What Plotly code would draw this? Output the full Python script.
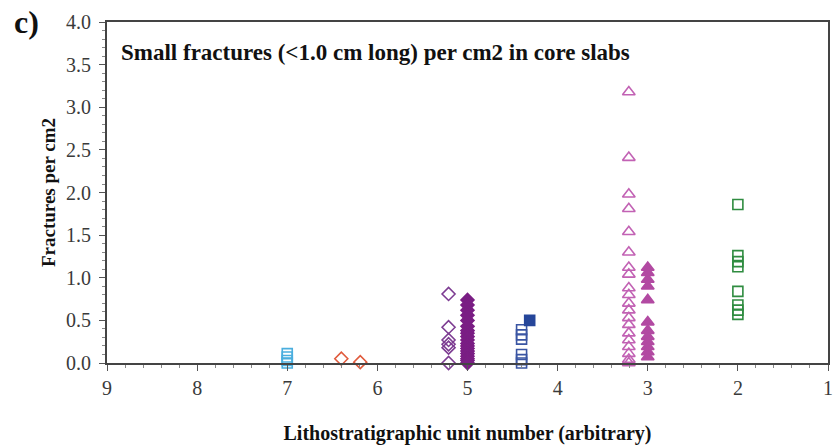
import plotly.graph_objects as go

# --- data (x = lithostratigraphic unit number, y = fractures per cm2) ---
lightblue_x = [7.0, 7.0, 7.0, 7.0]
lightblue_y = [0.0, 0.03, 0.07, 0.11]

red_x = [6.4, 6.19]
red_y = [0.05, 0.01]

purple_open_x = [5.21] * 6
purple_open_y = [0.81, 0.42, 0.27, 0.22, 0.18, 0.0]

purple_fill_x = [5.0] * 19
purple_fill_y = [0.74, 0.68, 0.62, 0.56, 0.5, 0.43, 0.38, 0.35, 0.31, 0.27,
                 0.23, 0.2, 0.17, 0.14, 0.11, 0.08, 0.05, 0.03, 0.0]

blue_open_x = [4.4] * 6
blue_open_y = [0.39, 0.33, 0.28, 0.1, 0.04, 0.0]

blue_fill_x = [4.31]
blue_fill_y = [0.5]

pink_open_x = [3.21] * 20
pink_open_y = [3.18, 2.41, 1.98, 1.81, 1.54, 1.3, 1.12, 1.04, 0.88, 0.8,
               0.7, 0.62, 0.53, 0.45, 0.35, 0.27, 0.19, 0.11, 0.04, 0.0]

pink_fill_x = [3.0] * 12
pink_fill_y = [1.12, 1.06, 0.98, 0.9, 0.74, 0.48, 0.38, 0.31, 0.25, 0.19, 0.13, 0.07]

green_x = [2.0] * 8
green_y = [1.86, 1.26, 1.19, 1.13, 0.84, 0.68, 0.62, 0.57]

x_ticks = [9, 8, 7, 6, 5, 4, 3, 2, 1]
y_ticks = [0.0, 0.5, 1.0, 1.5, 2.0, 2.5, 3.0, 3.5, 4.0]

TITLE = "Small fractures (<1.0 cm long) per cm2 in core slabs"
PANEL = "c)"
X_TITLE = "Lithostratigraphic unit number (arbitrary)"
Y_TITLE = "Fractures per cm2"

FONT = "Liberation Serif"

fig = go.Figure()


def add(x, y, symbol, color, size, filled):
    marker = dict(symbol=symbol if filled else symbol + "-open", size=size,
                  color=color, line=dict(color=color, width=1.6))
    fig.add_trace(go.Scatter(x=x, y=y, mode="markers", marker=marker,
                             showlegend=False, cliponaxis=False))


add(lightblue_x, lightblue_y, "square", "#4aaede", 10, False)
add(red_x, red_y, "diamond", "#e05a3c", 10, False)
add(purple_open_x, purple_open_y, "diamond", "#7d3c92", 10, False)
add(purple_fill_x, purple_fill_y, "diamond", "#7a1e84", 10, True)
add(blue_open_x, blue_open_y, "square", "#3a55a3", 10, False)
add(blue_fill_x, blue_fill_y, "square", "#26469a", 10, True)
add(pink_open_x, pink_open_y, "triangle-up", "#c262b4", 11, False)
add(pink_fill_x, pink_fill_y, "triangle-up", "#b24aa2", 11, True)
add(green_x, green_y, "square", "#2f8c40", 10, False)

tickfont = dict(family=FONT, size=20, color="#3a3a3a")

fig.update_layout(
    width=840, height=448,
    margin=dict(l=107, r=7, t=22, b=85),
    paper_bgcolor="white", plot_bgcolor="white",
    font=dict(family=FONT, size=16, color="#333333"),
    xaxis=dict(
        range=[9, 1], tickmode="array", tickvals=x_ticks,
        ticktext=[str(v) for v in x_ticks],
        ticklabeloverflow="allow",
        showgrid=False, zeroline=False,
        showline=True, linecolor="#444444", linewidth=2, mirror=True,
        ticks="outside", ticklen=6, tickcolor="#555555",
        minor=dict(dtick=0.2, ticks="outside", ticklen=3, tickcolor="#888888"),
        tickfont=tickfont,
        title=dict(text="<b>" + X_TITLE + "</b>", standoff=28,
                   font=dict(family=FONT, size=20, color="#111111")),
    ),
    yaxis=dict(
        range=[0, 4.001], tickmode="array", tickvals=y_ticks,
        ticktext=["%.1f" % v for v in y_ticks],
        ticklabelstandoff=4,
        showgrid=False, zeroline=False,
        showline=True, linecolor="#444444", linewidth=2, mirror=True,
        ticks="outside", ticklen=6, tickcolor="#555555",
        minor=dict(dtick=0.1, ticks="outside", ticklen=3, tickcolor="#888888"),
        tickfont=tickfont,
        title=dict(text="<b>" + Y_TITLE + "</b>", standoff=5,
                   font=dict(family=FONT, size=19, color="#111111")),
    ),
    annotations=[
        dict(text="<b>" + TITLE + "</b>", xref="paper", yref="paper",
             x=0.016, y=0.912, xanchor="left", yanchor="middle", showarrow=False,
             font=dict(family=FONT, size=23, color="#111111")),
        dict(text="<b>" + PANEL + "</b>", xref="paper", yref="paper",
             x=-0.132, y=1.0, xanchor="left", yanchor="middle", showarrow=False,
             font=dict(family=FONT, size=32, color="#111111")),
    ],
)

fig.write_html("out.html", config={"displayModeBar": False},
               post_script="document.body.style.margin='0px';"
                           "document.body.style.overflow='hidden';")
